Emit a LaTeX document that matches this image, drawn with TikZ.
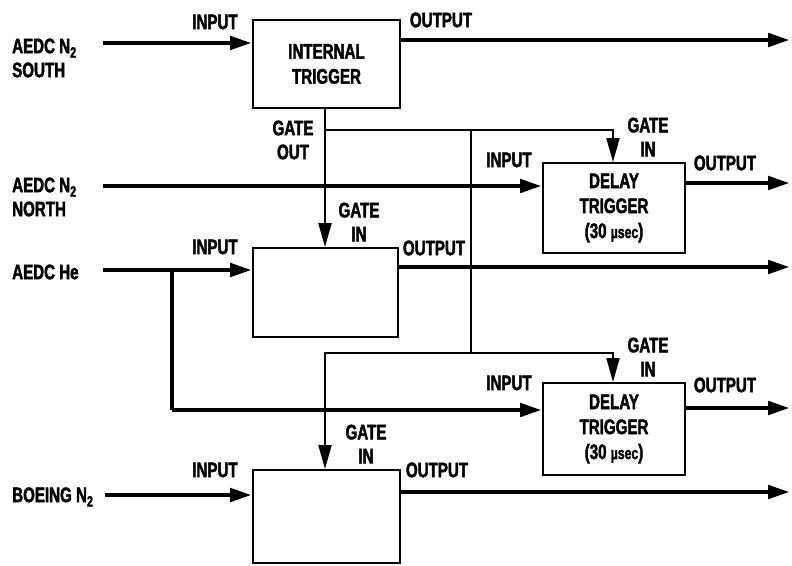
\documentclass[tikz,border=0pt]{standalone}
\usepackage{fontspec}
\newfontfamily\lbl{Liberation Sans}[FakeStretch=0.72,FakeBold=2]
\usetikzlibrary{arrows.meta}
\newcommand{\lowtwo}{\raisebox{-0.4ex}{\fontsize{15}{15}\selectfont 2}}
\tikzset{
  lab/.style={font=\lbl\bfseries\fontsize{21}{24}\selectfont, align=center, inner sep=0pt},
  lableft/.style={lab, align=left, anchor=west},
  blk/.style={draw, line width=2pt, inner sep=0pt, font=\lbl\bfseries\fontsize{21}{25}\selectfont, align=center},
  fat/.style={line width=4.8pt, -{Triangle[length=22pt,width=13pt]}},
  fatline/.style={line width=4.8pt},
  thin/.style={line width=2pt},
  thinarrow/.style={line width=2pt, -{Triangle[length=24pt,width=13pt]}}
}
\begin{document}
\begin{tikzpicture}[x=1pt,y=-1pt]
\useasboundingbox (0,0) rectangle (792,565);
% boxes
\node[blk, minimum width=147pt, minimum height=88pt] (b1) at (326.5,64) {INTERNAL\\TRIGGER};
\node[blk, minimum width=142pt, minimum height=90pt] (b2) at (614,208) {DELAY\\TRIGGER\\(30 {\fontsize{17}{17}\selectfont µsec})};
\node[blk, minimum width=145pt, minimum height=89pt] (b3) at (325.5,292.5) {};
\node[blk, minimum width=142pt, minimum height=92pt] (b4) at (614,429) {DELAY\\TRIGGER\\(30 {\fontsize{17}{17}\selectfont µsec})};
\node[blk, minimum width=147pt, minimum height=93pt] (b5) at (326.5,516.5) {};
% source labels
\node[lableft] (s1) at (12,58) {AEDC N\lowtwo\\SOUTH};
\node[lableft] (s2) at (12,197) {AEDC N\lowtwo\\NORTH};
\node[lableft] (s3) at (12,272) {AEDC He};
\node[lableft] (s4) at (12,497) {BOEING N\lowtwo};
% free-end coordinates
\coordinate (i1) at (103,43);
\coordinate (i2) at (103,186);
\coordinate (i3) at (103,270);
\coordinate (i5) at (105,495);
\coordinate (j3) at (172,270);
\coordinate (k3) at (172,410);
\coordinate (o1) at (790,40);
\coordinate (o2) at (790,183);
\coordinate (o3) at (790,267);
\coordinate (o4) at (790,408);
\coordinate (o5) at (790,492);
\coordinate (g1) at (325,130);
\coordinate (g2) at (613,130);
\coordinate (g3) at (471,130);
\coordinate (g4) at (471,353);
\coordinate (g5) at (325,353);
\coordinate (g6) at (613,353);
% inputs
\draw[fat] (i1) -- (i1 -| b1.west);
\draw[fat] (i2) -- (i2 -| b2.west);
\draw[fat] (i3) -- (i3 -| b3.west);
\draw[fatline] (j3) -- (k3);
\draw[fat] (k3) -- (k3 -| b4.west);
\draw[fat] (i5) -- (i5 -| b5.west);
% outputs
\draw[fat] (o1 -| b1.east) -- (o1);
\draw[fat] (o2 -| b2.east) -- (o2);
\draw[fat] (o3 -| b3.east) -- (o3);
\draw[fat] (o4 -| b4.east) -- (o4);
\draw[fat] (o5 -| b5.east) -- (o5);
% gate lines
\draw[thinarrow] (b1.south -| g1) -- (g1 |- b3.north);
\draw[thinarrow] (g1) -- (g2) -- (g2 |- b2.north);
\draw[thin] (g3) -- (g4);
\draw[thinarrow] (g4) -- (g6) -- (g6 |- b4.north);
\draw[thinarrow] (g4) -- (g5) -- (g5 |- b5.north);
% port labels
\node[lab] (in1) at (215,22) {INPUT};
\node[lab] (in2) at (509,160) {INPUT};
\node[lab] (in3) at (215,247) {INPUT};
\node[lab] (in4) at (509,383) {INPUT};
\node[lab] (in5) at (215,470) {INPUT};
\node[lab] (ou1) at (441,20) {OUTPUT};
\node[lab] (ou2) at (725,163) {OUTPUT};
\node[lab] (ou3) at (434,248) {OUTPUT};
\node[lab] (ou4) at (725,385) {OUTPUT};
\node[lab] (ou5) at (437,470) {OUTPUT};
\node[lab] (go) at (293,140) {GATE\\OUT};
\node[lab] (gi2) at (648,137) {GATE\\IN};
\node[lab] (gi3) at (359,222) {GATE\\IN};
\node[lab] (gi4) at (648,357) {GATE\\IN};
\node[lab] (gi5) at (366,444) {GATE\\IN};
\end{tikzpicture}
\end{document}
